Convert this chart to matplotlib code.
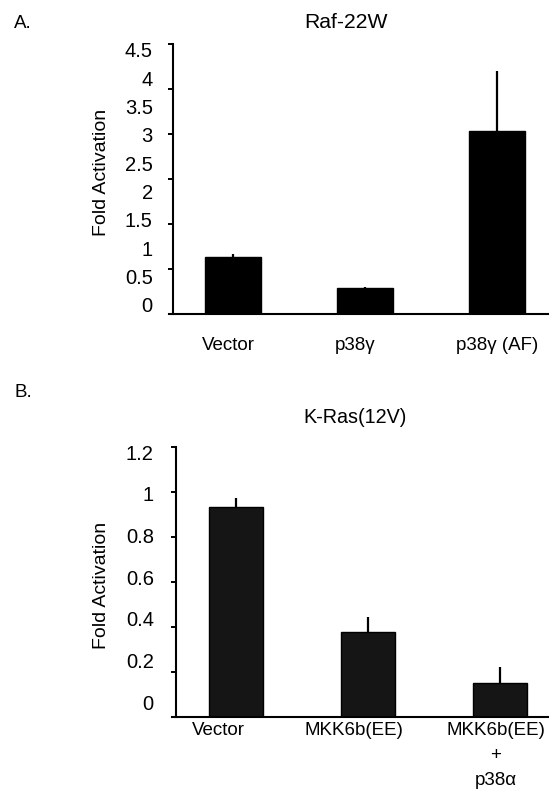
import numpy as np
import matplotlib
matplotlib.use("Agg")
import matplotlib.pyplot as plt
import matplotlib.transforms as mtransforms

plt.rcParams['font.family'] = ['Liberation Sans', 'DejaVu Sans']

# ---- Data: panel A (Raf-22W) ----
a_categories = ["Vector", "p38\u03b3", "p38\u03b3 (AF)"]
a_values = [0.95, 0.43, 3.05]
a_errors = [0.05, 0.025, 1.0]
a_tick_labels = ["4.5", "4", "3.5", "3", "2.5", "2", "1.5", "1", "0.5", "0"]

# ---- Data: panel B (K-Ras(12V)) ----
b_categories = ["Vector", "MKK6b(EE)", "MKK6b(EE)\n+\np38\u03b1"]
b_values = [0.933, 0.378, 0.151]
b_errors = [0.04, 0.066, 0.069]
b_tick_labels = ["1.2", "1", "0.8", "0.6", "0.4", "0.2", "0"]

W, H = 549, 798
fig = plt.figure(figsize=(W / 100, H / 100), dpi=100)


def fx(px):
    return px / W


def fy(py):
    return 1 - py / H


def style_axes(ax, xr, bar_x, ymax, major_step, label_pos, labels, lab_pad, xlab_pad):
    ax.set_xlim(-0.4545, xr)
    ax.set_ylim(0, ymax)
    for s in ("top", "right"):
        ax.spines[s].set_visible(False)
    for s in ("left", "bottom"):
        ax.spines[s].set_linewidth(1.5)
        ax.spines[s].set_color("black")
    ax.spines["bottom"].set_bounds(-0.485, xr)
    ax.set_yticks(np.arange(0, ymax + 1e-9, major_step))
    ax.set_yticklabels([])
    ax.tick_params(axis="y", which="major", direction="out", length=3.6, width=1.4, color="black")
    ax.set_yticks(label_pos, minor=True)
    ax.set_yticklabels(labels, minor=True)
    ax.tick_params(axis="y", which="minor", length=0, pad=lab_pad, labelsize=14.5)
    ax.set_xticks(bar_x)
    ax.tick_params(axis="x", length=0, pad=xlab_pad, labelsize=13.5)


# ---- Panel A ----
axA = fig.add_axes([fx(173), fy(314), 1 - fx(173), (314 - 44) / H])
xa = np.arange(len(a_categories))
axA.bar(xa, a_values, width=0.417, color="black", edgecolor="black", linewidth=1,
        yerr=[np.zeros(len(a_errors)), a_errors], ecolor="black",
        error_kw=dict(elinewidth=1.6, capsize=0))
a_label_pos = np.linspace(4.4, 0.15, len(a_tick_labels))
style_axes(axA, (549 - 233) / 132, xa, 4.5, 0.75, a_label_pos, a_tick_labels, 14.5, 16.5)
axA.set_xticklabels(a_categories)
for lab, dx in zip(axA.get_xticklabels(), [-5, -10, 0]):
    lab.set_transform(lab.get_transform() + mtransforms.ScaledTranslation(dx / 100, 0, fig.dpi_scale_trans))

fig.text(fx(14), fy(23), "A.", fontsize=13.5, ha="left", va="center")
fig.text(fx(346), fy(22), "Raf-22W", fontsize=15.2, ha="center", va="center")
fig.text(fx(101.5), fy(172), "Fold Activation", fontsize=14, rotation=90, ha="center", va="center")

# ---- Panel B ----
axB = fig.add_axes([fx(176), fy(716.7), 1 - fx(176), (716.7 - 446.7) / H])
xb = np.arange(len(b_categories))
axB.bar(xb, b_values, width=0.41, color="#151515", edgecolor="black", linewidth=1,
        yerr=[np.zeros(len(b_errors)), b_errors], ecolor="black",
        error_kw=dict(elinewidth=1.6, capsize=0))
b_label_pos = np.linspace(1.176, 0.065, len(b_tick_labels))
style_axes(axB, (549 - 236) / 132, xb, 1.2, 0.2, b_label_pos, b_tick_labels, 16, 3.5)
axB.set_xticklabels(b_categories, linespacing=1.65)
for lab, dx in zip(axB.get_xticklabels(), [-18, -14, -4]):
    lab.set_transform(lab.get_transform() + mtransforms.ScaledTranslation(dx / 100, 0, fig.dpi_scale_trans))

fig.text(fx(14), fy(393), "B.", fontsize=13.5, ha="left", va="center")
fig.text(fx(355), fy(417), "K-Ras(12V)", fontsize=14.2, ha="center", va="center")
fig.text(fx(101.5), fy(585), "Fold Activation", fontsize=14, rotation=90, ha="center", va="center")

fig.savefig("out.png", dpi=100)
